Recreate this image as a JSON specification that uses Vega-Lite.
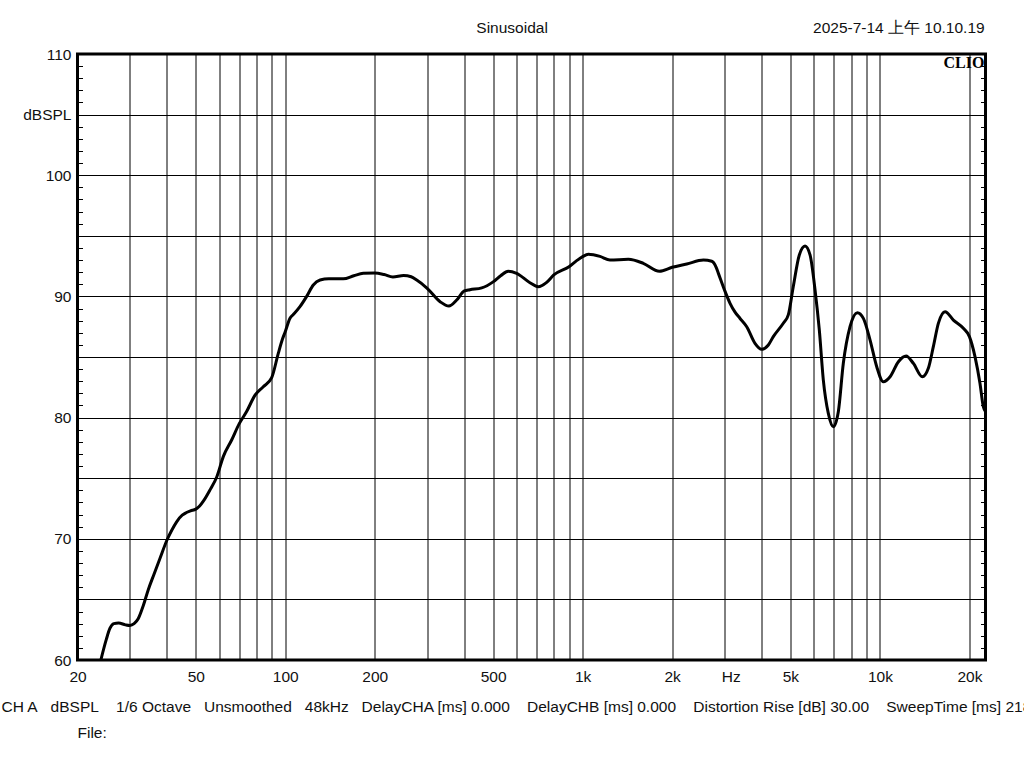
{
  "$schema": "https://vega.github.io/schema/vega-lite/v6.json",
  "width": 908,
  "height": 606,
  "autosize": {"type": "none"},
  "padding": {"left": 77.5, "top": 54, "right": 38.5, "bottom": 108},
  "background": "white",
  "config": {"view": {"stroke": "black", "strokeWidth": 3}, "font": "Liberation Sans"},
  "resolve": {"axis": {"y": "independent"}},
  "layer": [
    {
      "data": {"values": [
        {"f": 23.8, "db": 59.7}, {"f": 25.0, "db": 61.7}, {"f": 25.7, "db": 62.6}, {"f": 26.5, "db": 63.0}, {"f": 27.5, "db": 63.05},
        {"f": 29, "db": 62.9}, {"f": 30, "db": 62.85}, {"f": 31, "db": 63.0}, {"f": 32, "db": 63.4}, {"f": 33.3, "db": 64.5},
        {"f": 34.6, "db": 65.8}, {"f": 36.2, "db": 67.1}, {"f": 37.9, "db": 68.4}, {"f": 40, "db": 69.9}, {"f": 41.5, "db": 70.7},
        {"f": 43.1, "db": 71.4}, {"f": 45, "db": 71.95}, {"f": 46, "db": 72.1}, {"f": 48, "db": 72.3}, {"f": 50, "db": 72.45},
        {"f": 51.5, "db": 72.7}, {"f": 53, "db": 73.1}, {"f": 56, "db": 74.1}, {"f": 58.8, "db": 75.1}, {"f": 61.9, "db": 76.8},
        {"f": 66, "db": 78.15}, {"f": 70, "db": 79.5}, {"f": 74.1, "db": 80.5}, {"f": 79.1, "db": 81.85}, {"f": 84.3, "db": 82.55},
        {"f": 90, "db": 83.3}, {"f": 94.7, "db": 85.3}, {"f": 97.9, "db": 86.5}, {"f": 100, "db": 87.1}, {"f": 103.7, "db": 88.2},
        {"f": 106.4, "db": 88.5}, {"f": 112, "db": 89.15}, {"f": 118, "db": 90.0}, {"f": 124.2, "db": 90.94}, {"f": 130.9, "db": 91.35},
        {"f": 140, "db": 91.45}, {"f": 156.7, "db": 91.45}, {"f": 170, "db": 91.7}, {"f": 182.9, "db": 91.9}, {"f": 200, "db": 91.93},
        {"f": 215, "db": 91.8}, {"f": 230, "db": 91.6}, {"f": 250, "db": 91.72}, {"f": 265, "db": 91.62}, {"f": 276.7, "db": 91.35},
        {"f": 300, "db": 90.67}, {"f": 331.6, "db": 89.56}, {"f": 355, "db": 89.2}, {"f": 377, "db": 89.7}, {"f": 400, "db": 90.45},
        {"f": 418, "db": 90.55}, {"f": 457.8, "db": 90.7}, {"f": 500, "db": 91.2}, {"f": 530, "db": 91.7}, {"f": 562, "db": 92.07},
        {"f": 600, "db": 91.9}, {"f": 665, "db": 91.13}, {"f": 709, "db": 90.8}, {"f": 757, "db": 91.16}, {"f": 800, "db": 91.77},
        {"f": 900, "db": 92.45}, {"f": 955, "db": 92.95}, {"f": 1000, "db": 93.28}, {"f": 1045, "db": 93.47}, {"f": 1144, "db": 93.3},
        {"f": 1236, "db": 93.0}, {"f": 1425, "db": 93.06}, {"f": 1600, "db": 92.73}, {"f": 1812, "db": 92.07}, {"f": 2000, "db": 92.4},
        {"f": 2240, "db": 92.67}, {"f": 2548, "db": 93.0}, {"f": 2719, "db": 92.9}, {"f": 2813, "db": 92.4}, {"f": 2862, "db": 91.9},
        {"f": 3000, "db": 90.53}, {"f": 3132, "db": 89.43}, {"f": 3256, "db": 88.7}, {"f": 3380, "db": 88.2}, {"f": 3564, "db": 87.5},
        {"f": 3800, "db": 86.13}, {"f": 4000, "db": 85.63}, {"f": 4214, "db": 85.99}, {"f": 4379, "db": 86.68}, {"f": 4731, "db": 87.78},
        {"f": 4918, "db": 88.47}, {"f": 5110, "db": 90.8}, {"f": 5356, "db": 93.42}, {"f": 5599, "db": 94.16}, {"f": 5820, "db": 93.42},
        {"f": 6050, "db": 90.53}, {"f": 6253, "db": 87.23}, {"f": 6451, "db": 83.1}, {"f": 6705, "db": 80.35}, {"f": 6970, "db": 79.25},
        {"f": 7245, "db": 80.49}, {"f": 7531, "db": 84.48}, {"f": 7932, "db": 87.5}, {"f": 8394, "db": 88.66}, {"f": 8796, "db": 88.19},
        {"f": 9265, "db": 86.4}, {"f": 9755, "db": 84.2}, {"f": 10266, "db": 82.96}, {"f": 10818, "db": 83.37}, {"f": 11538, "db": 84.61},
        {"f": 12246, "db": 85.08}, {"f": 12950, "db": 84.48}, {"f": 13885, "db": 83.37}, {"f": 14547, "db": 84.07}, {"f": 15122, "db": 85.85},
        {"f": 15720, "db": 87.78}, {"f": 16560, "db": 88.74}, {"f": 17660, "db": 88.05}, {"f": 19080, "db": 87.37}, {"f": 20000, "db": 86.68},
        {"f": 20880, "db": 85.03}, {"f": 21700, "db": 82.83}, {"f": 22270, "db": 80.9}, {"f": 22650, "db": 80.5}
      ]},
      "mark": {"type": "line", "color": "black", "strokeWidth": 3, "interpolate": "monotone", "clip": true},
      "encoding": {
        "x": {
          "field": "f", "type": "quantitative",
          "scale": {"type": "log", "domain": [20, 22650], "nice": false},
          "axis": {
            "orient": "bottom",
            "values": [20, 30, 40, 50, 60, 70, 80, 90, 100, 200, 300, 400, 500, 600, 700, 800, 900, 1000, 2000, 3000, 4000, 5000, 6000, 7000, 8000, 9000, 10000, 20000, 3150],
            "labelExpr": "datum.value == 3150 ? 'Hz' : ((datum.value == 20 || datum.value == 50 || datum.value == 100 || datum.value == 200 || datum.value == 500) ? '' + datum.value : ((datum.value == 1000 || datum.value == 2000 || datum.value == 5000 || datum.value == 10000 || datum.value == 20000) ? (datum.value / 1000) + 'k' : ''))",
            "grid": true, "gridColor": "black", "gridWidth": 1,
            "gridOpacity": {"condition": {"test": "datum.value == 3150", "value": 0}, "value": 1},
            "ticks": false, "domain": false,
            "labelPadding": 9.5, "labelBaseline": "top", "labelFontSize": 15.5, "labelFont": "Liberation Sans", "labelColor": "#111",
            "labelFlush": false, "labelOverlap": false, "labelBound": false,
            "title": "CH A\u00a0\u00a0\u00a0dBSPL\u00a0\u00a0\u00a0\u00a01/6 Octave\u00a0\u00a0\u00a0Unsmoothed\u00a0\u00a0\u00a048kHz\u00a0\u00a0\u00a0DelayCHA [ms] 0.000\u00a0\u00a0\u00a0\u00a0DelayCHB [ms] 0.000\u00a0\u00a0\u00a0\u00a0Distortion Rise [dB] 30.00\u00a0\u00a0\u00a0\u00a0SweepTime [ms] 2184",
            "titleAnchor": "start", "titleAlign": "left", "titleX": -76.5, "titleY": 51, "titleBaseline": "alphabetic",
            "titleFontWeight": "normal", "titleFontSize": 15.5, "titleFont": "Liberation Sans", "titleColor": "#111", "titleLimit": 2000
          }
        },
        "y": {
          "field": "db", "type": "quantitative",
          "scale": {"domain": [60, 110], "nice": false, "zero": false},
          "axis": {
            "orient": "left",
            "values": [60, 61, 62, 63, 64, 65, 66, 67, 68, 69, 70, 71, 72, 73, 74, 75, 76, 77, 78, 79, 80, 81, 82, 83, 84, 85, 86, 87, 88, 89, 90, 91, 92, 93, 94, 95, 96, 97, 98, 99, 100, 101, 102, 103, 104, 105, 106, 107, 108, 109, 110],
            "labelExpr": "datum.value == 105 ? 'dBSPL' : (datum.value % 10 == 0 ? '' + datum.value : '')",
            "grid": true, "gridColor": "black", "gridWidth": 1,
            "gridOpacity": {"condition": {"test": "datum.value % 5 == 0", "value": 1}, "value": 0},
            "ticks": true, "tickSize": -5, "tickColor": "black", "tickWidth": 1,
            "domain": false, "labelPadding": 11.5, "labelFontSize": 15.5, "labelFont": "Liberation Sans", "labelColor": "#111",
            "labelFlush": false, "labelOverlap": false, "labelBound": false,
            "title": null
          }
        }
      }
    },
    {
      "data": {"values": [{"t": "CLIO"}]},
      "mark": {"type": "text", "align": "right", "baseline": "alphabetic", "font": "Liberation Serif", "fontWeight": "bold", "fontSize": 16, "color": "black"},
      "encoding": {
        "text": {"field": "t"},
        "x": {"datum": 22450, "type": "quantitative"},
        "y": {
          "datum": 108.85, "type": "quantitative",
          "axis": {
            "orient": "right",
            "values": [60, 61, 62, 63, 64, 65, 66, 67, 68, 69, 70, 71, 72, 73, 74, 75, 76, 77, 78, 79, 80, 81, 82, 83, 84, 85, 86, 87, 88, 89, 90, 91, 92, 93, 94, 95, 96, 97, 98, 99, 100, 101, 102, 103, 104, 105, 106, 107, 108, 109, 110],
            "labels": false, "grid": false, "ticks": true, "tickSize": -5, "tickColor": "black", "tickWidth": 1, "domain": false, "title": null
          }
        }
      }
    },
    {
      "data": {"values": [{"t": "2025-7-14 上午 10.10.19"}]},
      "mark": {"type": "text", "align": "right", "baseline": "alphabetic", "font": "Liberation Sans", "fontSize": 15.5, "color": "#111"},
      "encoding": {
        "text": {"field": "t"},
        "x": {"datum": 22500, "type": "quantitative"},
        "y": {"datum": 111.7, "type": "quantitative", "axis": null}
      }
    },
    {
      "data": {"values": [{"t": "Sinusoidal"}]},
      "mark": {"type": "text", "align": "center", "baseline": "alphabetic", "font": "Liberation Sans", "fontSize": 15.5, "color": "#111"},
      "encoding": {
        "text": {"field": "t"},
        "x": {"datum": 579, "type": "quantitative"},
        "y": {"datum": 111.7, "type": "quantitative", "axis": null}
      }
    },
    {
      "data": {"values": [{"t": "File:"}]},
      "mark": {"type": "text", "align": "left", "baseline": "alphabetic", "font": "Liberation Sans", "fontSize": 15.5, "color": "#111"},
      "encoding": {
        "text": {"field": "t"},
        "x": {"datum": 20, "type": "quantitative"},
        "y": {"datum": 53.6, "type": "quantitative", "axis": null}
      }
    }
  ]
}
